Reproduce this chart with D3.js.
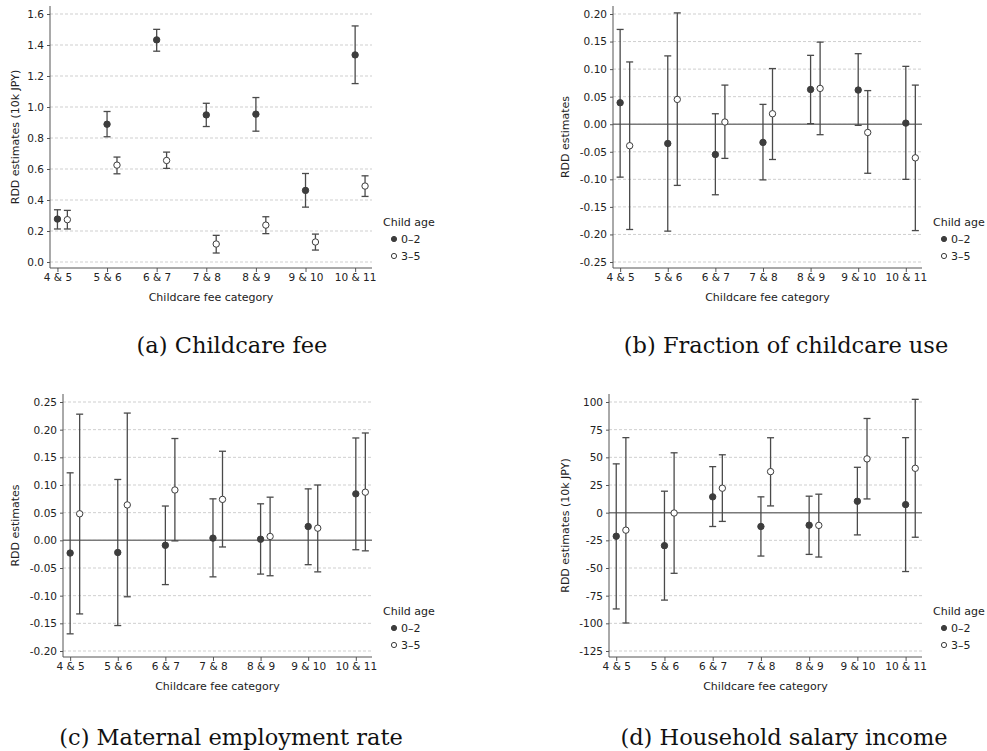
<!DOCTYPE html>
<html>
<head>
<meta charset="utf-8">
<script src="https://cdnjs.cloudflare.com/ajax/libs/d3/7.8.5/d3.min.js"></script>
<style>
body { margin: 0; background: #fff; }
svg text { font-family: "DejaVu Sans", Verdana, sans-serif; fill: #222; }
svg text.caption { font-family: "DejaVu Serif", serif; fill: #111; }
</style>
</head>
<body>
<div class="canvas"></div>
<script>
//------------------------Data: rows are [estimate, lower, upper]
const categories = ['4 & 5', '5 & 6', '6 & 7', '7 & 8', '8 & 9', '9 & 10', '10 & 11'];
const ageGroups = ['0–2', '3–5'];

// (a) childcare fee
const fee02 = [[0.277, 0.213, 0.337], [0.889, 0.808, 0.971], [1.433, 1.360, 1.501], [0.949, 0.874, 1.024],
               [0.954, 0.844, 1.061], [0.462, 0.354, 0.571], [1.336, 1.151, 1.523]];
const fee35 = [[0.273, 0.213, 0.333], [0.625, 0.569, 0.677], [0.655, 0.604, 0.709], [0.116, 0.058, 0.172],
               [0.238, 0.183, 0.292], [0.129, 0.077, 0.180], [0.490, 0.423, 0.556]];
const feeTicks = [0, 0.2, 0.4, 0.6, 0.8, 1.0, 1.2, 1.4, 1.6];

// (b) fraction of childcare use
const use02 = [[0.039, -0.096, 0.172], [-0.035, -0.194, 0.124], [-0.055, -0.128, 0.019], [-0.033, -0.101, 0.036],
               [0.063, 0.001, 0.125], [0.062, -0.002, 0.128], [0.002, -0.100, 0.105]];
const use35 = [[-0.039, -0.191, 0.113], [0.045, -0.111, 0.202], [0.004, -0.062, 0.071], [0.019, -0.064, 0.101],
               [0.065, -0.019, 0.149], [-0.015, -0.089, 0.061], [-0.061, -0.193, 0.071]];
const useTicks = [-0.25, -0.20, -0.15, -0.10, -0.05, 0, 0.05, 0.10, 0.15, 0.20];

// (c) maternal employment rate
const emp02 = [[-0.023, -0.169, 0.122], [-0.022, -0.154, 0.110], [-0.009, -0.080, 0.062], [0.004, -0.066, 0.075],
               [0.002, -0.061, 0.066], [0.025, -0.044, 0.093], [0.084, -0.017, 0.185]];
const emp35 = [[0.048, -0.133, 0.228], [0.064, -0.102, 0.230], [0.091, -0.001, 0.184], [0.074, -0.012, 0.161],
               [0.007, -0.064, 0.078], [0.022, -0.057, 0.100], [0.087, -0.019, 0.194]];
const empTicks = [-0.20, -0.15, -0.10, -0.05, 0, 0.05, 0.10, 0.15, 0.20, 0.25];

// (d) household salary income
const inc02 = [[-21.3, -87.0, 44.1], [-29.8, -79.0, 19.4], [14.3, -12.5, 41.6], [-12.5, -39.2, 14.3],
               [-11.3, -37.7, 14.9], [10.3, -20.1, 41.0], [7.3, -53.2, 67.8]];
const inc35 = [[-15.8, -99.7, 67.8], [-0.3, -54.8, 54.1], [22.1, -7.9, 52.3], [37.1, 6.1, 67.7],
               [-11.5, -40.1, 16.7], [48.6, 12.4, 85.1], [40.1, -22.2, 102.4]];
const incTicks = [-125, -100, -75, -50, -25, 0, 25, 50, 75, 100];

//------------------------Number formats with a plain hyphen for negatives
const locale = d3.formatLocale({ decimal: '.', thousands: ',', grouping: [3], currency: ['', ''], minus: '-' });

//------------------------Panel layout
const panels = [
    { caption: '(a) Childcare fee', yLabel: 'RDD estimates (10k JPY)', series: [fee02, fee35], ticks: feeTicks,
      fmt: locale.format('.1f'), zero: false, left: 50, right: 372, top: 6, bottom: 268, labelX: 15, legendX: 383, capX: 232, capY: 353 },
    { caption: '(b) Fraction of childcare use', yLabel: 'RDD estimates', series: [use02, use35], ticks: useTicks,
      fmt: locale.format('.2f'), zero: true, left: 613, right: 922, top: 6, bottom: 268, labelX: 565, legendX: 933, capX: 786, capY: 353 },
    { caption: '(c) Maternal employment rate', yLabel: 'RDD estimates', series: [emp02, emp35], ticks: empTicks,
      fmt: locale.format('.2f'), zero: true, left: 63, right: 372, top: 394, bottom: 657, labelX: 15, legendX: 383, capX: 231, capY: 745 },
    { caption: '(d) Household salary income', yLabel: 'RDD estimates (10k JPY)', series: [inc02, inc35], ticks: incTicks,
      fmt: locale.format('d'), zero: true, left: 609, right: 922, top: 394, bottom: 657, labelX: 565, legendX: 933, capX: 784, capY: 745 }
];

const offsets = [0, 0.2];       // the 3-5 group sits slightly right of its category
const barColor = '#4a4a4a';
const dotColor = '#3d3d3d';

//------------------------Svg container
const svg = d3.select('.canvas')
    .append('svg')
    .attr('width', 987)
    .attr('height', 751);

const drawPanel = (p) => {
    const x = d3.scaleLinear()
        .domain([-0.15, categories.length - 0.66])
        .range([p.left, p.right]);

    const y = d3.scaleLinear()
        .domain(d3.extent(p.ticks))
        .range([p.bottom - 6, p.top + 8]);

    const g = svg.append('g');

    // dashed grid lines
    g.selectAll('line.grid')
        .data(p.ticks)
        .enter().append('line')
        .attr('class', 'grid')
        .attr('x1', p.left).attr('x2', p.right)
        .attr('y1', d => y(d)).attr('y2', d => y(d))
        .attr('stroke', '#cfcfcf')
        .attr('stroke-width', 1)
        .attr('stroke-dasharray', '3,2');

    // reference line at zero
    if (p.zero) {
        g.append('line')
            .attr('x1', p.left).attr('x2', p.right)
            .attr('y1', y(0)).attr('y2', y(0))
            .attr('stroke', '#7a7a7a')
            .attr('stroke-width', 1.5);
    }

    // y axis
    const yAxis = g.append('g')
        .attr('transform', `translate(${p.left},0)`)
        .call(d3.axisLeft(y).tickValues(p.ticks).tickFormat(p.fmt).tickSize(3).tickPadding(3));
    yAxis.select('.domain').remove();

    // x axis
    const xAxis = g.append('g')
        .attr('transform', `translate(0,${p.bottom})`)
        .call(d3.axisBottom(x).tickValues(d3.range(categories.length)).tickFormat(i => categories[i]).tickSize(4).tickPadding(2));
    xAxis.select('.domain').remove();

    [yAxis, xAxis].forEach(a => {
        a.selectAll('line').attr('stroke', '#555');
        a.selectAll('text').attr('font-size', '10.5px').attr('fill', '#222');
    });

    // axis frame lines (left and bottom)
    g.append('path')
        .attr('d', `M${p.left},${p.top}V${p.bottom}H${p.right}`)
        .attr('fill', 'none')
        .attr('stroke', '#555')
        .attr('stroke-width', 1);

    // axis titles
    g.append('text')
        .attr('x', (p.left + p.right) / 2)
        .attr('y', p.bottom + 33)
        .attr('text-anchor', 'middle')
        .attr('font-size', '11px')
        .text('Childcare fee category');

    g.append('text')
        .attr('transform', `translate(${p.labelX + 4},${(p.top + p.bottom) / 2}) rotate(-90)`)
        .attr('text-anchor', 'middle')
        .attr('font-size', '11px')
        .text(p.yLabel);

    // error bars and estimates for each age group
    p.series.forEach((rows, k) => {
        const grp = g.append('g');
        const cx = (d, i) => x(i + offsets[k]);

        grp.selectAll('line.bar')
            .data(rows)
            .enter().append('line')
            .attr('x1', cx).attr('x2', cx)
            .attr('y1', d => y(d[1])).attr('y2', d => y(d[2]))
            .attr('stroke', barColor)
            .attr('stroke-width', 1.3);

        [1, 2].forEach(j => {
            grp.selectAll(`line.cap${j}`)
                .data(rows)
                .enter().append('line')
                .attr('x1', (d, i) => cx(d, i) - 3.5).attr('x2', (d, i) => cx(d, i) + 3.5)
                .attr('y1', d => y(d[j])).attr('y2', d => y(d[j]))
                .attr('stroke', barColor)
                .attr('stroke-width', 1.3);
        });

        grp.selectAll('circle')
            .data(rows)
            .enter().append('circle')
            .attr('cx', cx)
            .attr('cy', d => y(d[0]))
            .attr('r', 3.2)
            .attr('fill', k === 0 ? dotColor : '#fff')
            .attr('stroke', dotColor)
            .attr('stroke-width', 1);
    });

    // legend
    const lg = g.append('g')
        .attr('transform', `translate(${p.legendX},${p.bottom - 42})`);

    lg.append('text')
        .attr('font-size', '11px')
        .text('Child age');

    ageGroups.forEach((name, k) => {
        lg.append('circle')
            .attr('cx', 11).attr('cy', 13 + k * 17)
            .attr('r', 2.6)
            .attr('fill', k === 0 ? dotColor : '#fff')
            .attr('stroke', dotColor)
            .attr('stroke-width', 1);
        lg.append('text')
            .attr('x', 18).attr('y', 17 + k * 17)
            .attr('font-size', '11px')
            .text(name);
    });

    // sub-figure caption
    svg.append('text')
        .attr('class', 'caption')
        .attr('x', p.capX)
        .attr('y', p.capY)
        .attr('text-anchor', 'middle')
        .attr('font-size', '22.5px')
        .text(p.caption);
};

panels.forEach(drawPanel);
</script>
</body>
</html>
